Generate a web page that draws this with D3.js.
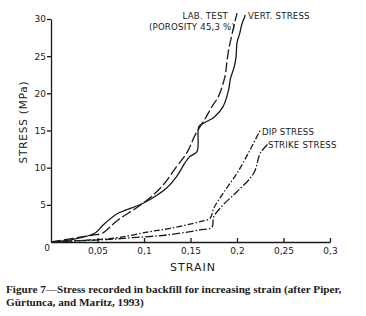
<!DOCTYPE html>
<html>
<head>
<meta charset="utf-8">
<script src="https://cdn.jsdelivr.net/npm/d3@7"></script>
<style>
  body { margin: 0; background: #fff; }
  svg text { font-family: "DejaVu Sans", sans-serif; fill: #1a1a1a; }
  .caption { font-family: "Liberation Serif", serif; font-weight: bold; font-size: 11.2px; fill: #231b17; }
</style>
</head>
<body>
<div id="container"></div>
<script>
const width = 366;
const height = 316;

// values: [strain, stress MPa]
const labTest = [[0, 0], [0.045, 0.94], [0.055, 1.17], [0.072, 2.96], [0.099, 5.21], [0.119, 7.44],
  [0.135, 10.13], [0.146, 11.98], [0.155, 14.4], [0.166, 16.65], [0.173, 18.2], [0.18, 19.56],
  [0.187, 22.25], [0.189, 24.1], [0.191, 25.84], [0.195, 28.13], [0.2, 30.8]];
const vertStress = [[0, 0], [0.024, 0.36], [0.047, 1.17], [0.056, 2.29], [0.072, 3.86], [0.081, 4.31],
  [0.099, 5.21], [0.124, 7.23], [0.135, 8.79], [0.144, 10.63], [0.149, 11.48], [0.157, 12.15],
  [0.159, 15.52], [0.164, 15.98], [0.176, 16.86], [0.185, 18.21], [0.191, 20.46], [0.193, 22.0],
  [0.197, 23.55], [0.199, 24.9], [0.2, 26.8], [0.203, 28.1], [0.205, 29.2], [0.209, 30.55]];
const dipStress = [[0, 0], [0.053, 0.36], [0.074, 0.63], [0.106, 1.39], [0.128, 1.84], [0.16, 2.73],
  [0.171, 3.19], [0.175, 4.54], [0.185, 6.55], [0.2, 9.25], [0.214, 12.38], [0.225, 15.07]];
const strikeStress = [[0, 0], [0.063, 0.36], [0.088, 0.58], [0.124, 0.94], [0.16, 1.62], [0.173, 1.98],
  [0.175, 3.4], [0.185, 4.98], [0.2, 6.77], [0.218, 9.25], [0.225, 11.94], [0.234, 13.28]];

const xTicks = [0.05, 0.1, 0.15, 0.2, 0.25, 0.3];
const xTickLabels = ['0,05', '0,1', '0,15', '0,2', '0,25', '0,3'];
const yTicks = [5, 10, 15, 20, 25, 30];

const svg = d3.select('#container').append('svg')
    .attr('width', width)
    .attr('height', height);

const x = d3.scaleLinear().domain([0, 0.3]).range([51, 330]);
const y = d3.scaleLinear().domain([0, 30]).range([242, 19]);

// axes
const yAxis = svg.append('g')
    .attr('transform', 'translate(' + x(0) + ',0)')
    .call(d3.axisLeft(y).tickValues(yTicks).tickSize(4).tickSizeOuter(0).tickPadding(1));
yAxis.selectAll('text').attr('font-size', 9).attr('fill', '#1a1a1a');

const xAxis = svg.append('g')
    .attr('transform', 'translate(0,' + y(0) + ')')
    .call(d3.axisBottom(x).tickValues(xTicks).tickSize(-4).tickSizeOuter(0).tickPadding(6)
        .tickFormat(function (d, i) { return xTickLabels[i]; }));
xAxis.selectAll('text').attr('font-size', 9).attr('fill', '#1a1a1a');

svg.selectAll('.domain, .tick line')
    .attr('stroke', '#1a1a1a')
    .attr('stroke-width', 1.3);

svg.append('text')
    .attr('x', x(0) - 4)
    .attr('y', y(0) + 9)
    .attr('text-anchor', 'middle')
    .attr('font-size', 9)
    .text('0');

// curves
const line = d3.line()
    .x(function (d) { return x(d[0]); })
    .y(function (d) { return y(d[1]); })
    .curve(d3.curveCatmullRom.alpha(0.5));

const series = [
    { data: labTest, dash: '10,3' },
    { data: vertStress, dash: null },
    { data: dipStress, dash: '6,2,1.5,2' },
    { data: strikeStress, dash: '8,2,1.5,2' }
];

svg.selectAll('path.curve')
    .data(series)
    .join('path')
    .attr('class', 'curve')
    .attr('d', function (d) { return line(d.data); })
    .attr('fill', 'none')
    .attr('stroke', '#1a1a1a')
    .attr('stroke-width', 1.3)
    .attr('stroke-dasharray', function (d) { return d.dash; });

// labels
const notes = svg.append('g').attr('font-size', 8.6).attr('letter-spacing', 0.2);
notes.append('text').attr('x', 228).attr('y', 19).attr('text-anchor', 'end').text('LAB. TEST');
notes.append('text').attr('x', 235).attr('y', 30).attr('text-anchor', 'end').text('(POROSITY 45,3 %)');
notes.append('text').attr('x', 248).attr('y', 19).text('VERT. STRESS');
notes.append('text').attr('x', 262).attr('y', 135).text('DIP STRESS');
notes.append('text').attr('x', 268).attr('y', 148).text('STRIKE STRESS');

svg.append('text')
    .attr('x', 193)
    .attr('y', 271)
    .attr('text-anchor', 'middle')
    .attr('font-size', 11)
    .attr('letter-spacing', 1)
    .text('STRAIN');

svg.append('text')
    .attr('transform', 'translate(27,122) rotate(-90)')
    .attr('text-anchor', 'middle')
    .attr('font-size', 10.5)
    .attr('letter-spacing', 0.8)
    .text('STRESS (MPa)');

// caption
svg.append('text').attr('class', 'caption').attr('x', 6).attr('y', 293)
    .text('Figure 7\u2014Stress recorded in backfill for increasing strain (after Piper,');
svg.append('text').attr('class', 'caption').attr('x', 6).attr('y', 306)
    .text('G\u00fcrtunca, and Maritz, 1993)');
</script>
</body>
</html>
